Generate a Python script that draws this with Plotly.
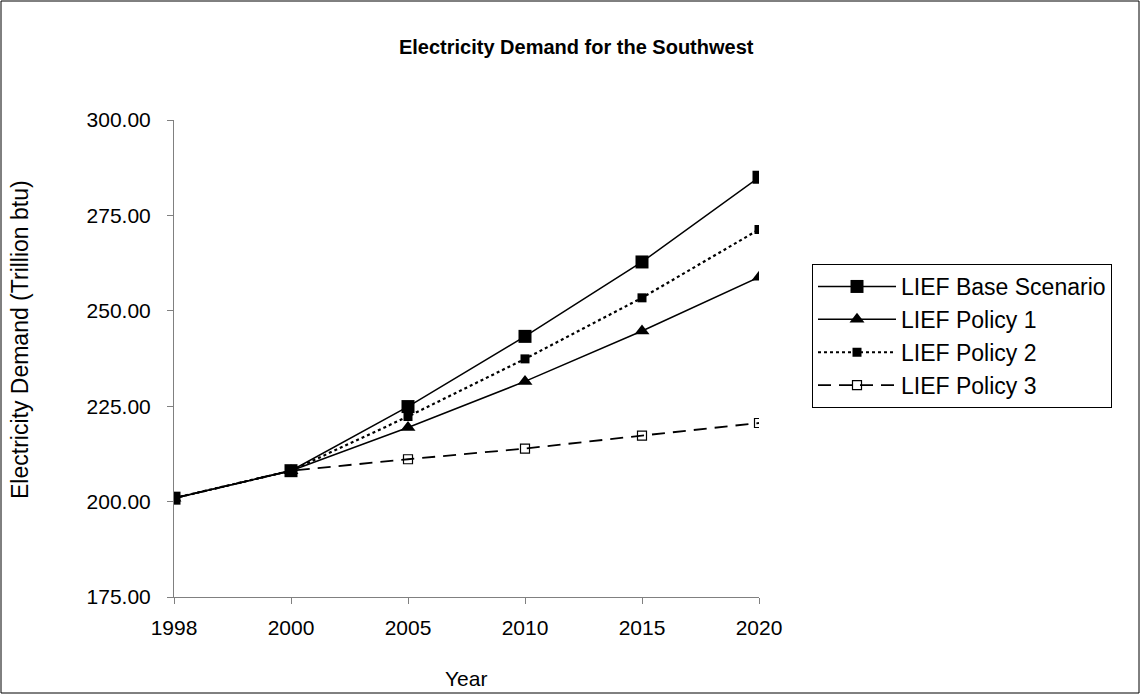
import plotly.graph_objects as go

years = ["1998", "2000", "2005", "2010", "2015", "2020"]
base = [200.9, 208.1, 224.9, 243.3, 262.8, 285.0]
policy1 = [200.9, 208.1, 219.4, 231.5, 244.7, 258.8]
policy2 = [200.9, 208.1, 222.3, 237.4, 253.4, 271.3]
policy3 = [200.9, 208.1, 211.1, 213.9, 217.3, 220.6]
series_names = ["LIEF Base Scenario", "LIEF Policy 1", "LIEF Policy 2", "LIEF Policy 3"]
y_ticks = [175, 200, 225, 250, 275, 300]

FONT = "Liberation Sans, Arial, sans-serif"
L, R, T, B = 174, 382, 120, 98
W, H = 1141, 695
pw, ph = W - L - R, H - T - B

fig = go.Figure()
fig.add_trace(go.Scatter(x=years, y=base, name=series_names[0], mode="lines+markers",
                         legendgroup="a",
                         line=dict(color="black", width=1.5),
                         marker=dict(symbol="square", size=13, color="black")))
fig.add_trace(go.Scatter(x=years, y=policy1, name=series_names[1], mode="lines+markers",
                         legendgroup="b",
                         line=dict(color="black", width=1.5),
                         marker=dict(symbol="triangle-up", size=13, color="black")))
fig.add_trace(go.Scatter(x=years, y=policy2, name=series_names[2], mode="lines+markers",
                         legendgroup="c",
                         line=dict(color="black", width=2.2, dash="dot"),
                         marker=dict(symbol="square", size=9, color="black")))
fig.add_trace(go.Scatter(x=years, y=policy3, name=series_names[3], mode="lines+markers",
                         legendgroup="d",
                         line=dict(color="black", width=1.8, dash="13px,8px"),
                         marker=dict(symbol="square-open", size=9, color="black",
                                     line=dict(width=1.2))))

def px_x(p):
    return (p - L) / pw

def px_y(p):
    return (H - B - p) / ph

fig.update_layout(
    width=W, height=H,
    margin=dict(l=L, r=R, t=T, b=B),
    paper_bgcolor="white", plot_bgcolor="white",
    font=dict(family=FONT, size=21, color="black"),
    title=dict(text="<b>Electricity Demand for the Southwest</b>", x=0.505, xref="container",
               xanchor="center", y=1 - 47 / H, yanchor="middle",
               font=dict(family=FONT, size=20, color="black")),
    xaxis=dict(type="category", range=[0, 5], showline=True, linecolor="#808080",
               linewidth=1, ticks="outside", tickcolor="#808080", ticklen=6,
               showgrid=False, zeroline=False, tickfont=dict(size=21),
               ticklabelstandoff=6),
    yaxis=dict(range=[175, 300], tickvals=y_ticks, tickformat=".2f", showline=True,
               linecolor="#808080", linewidth=1, ticks="outside", tickcolor="#808080",
               ticklen=6, showgrid=False, zeroline=False, tickfont=dict(size=21),
               ticklabelstandoff=12),
    legend=dict(x=px_x(812), y=px_y(264), xanchor="left", yanchor="top",
                bordercolor="black", borderwidth=1, bgcolor="white",
                font=dict(size=23), tracegroupgap=0, itemwidth=78),
    showlegend=True,
)

fig.add_annotation(text="Electricity Demand (Trillion btu)", xref="paper", yref="paper",
                   x=px_x(20), y=px_y(340), textangle=-90, showarrow=False,
                   font=dict(size=23), xanchor="center", yanchor="middle")
fig.add_annotation(text="Year", xref="paper", yref="paper",
                   x=px_x(466), y=px_y(678), showarrow=False,
                   font=dict(size=21), xanchor="center", yanchor="middle")

fig.add_shape(type="rect", xref="paper", yref="paper",
              x0=px_x(1), x1=px_x(1139), y0=px_y(693), y1=px_y(1),
              line=dict(color="black", width=1))

fig.write_html("out.html", config={"displayModeBar": False},
               post_script="document.body.style.margin='0';")
